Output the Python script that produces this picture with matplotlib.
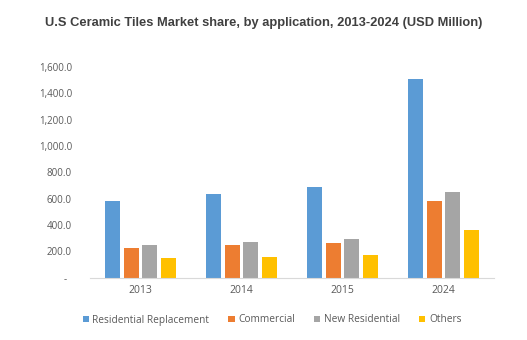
import numpy as np
import matplotlib
matplotlib.use("Agg")
import matplotlib.pyplot as plt
from matplotlib.ticker import FuncFormatter

# U.S ceramic tiles market by application, USD million
years = ["2013", "2014", "2015", "2024"]
residential_replacement = [581, 632, 685, 1510]
commercial = [225, 248, 263, 581]
new_residential = [248, 270, 293, 647]
others = [149, 157, 174, 361]

series = [
    ("Residential Replacement", residential_replacement, "#5B9BD5"),
    ("Commercial", commercial, "#ED7D31"),
    ("New Residential", new_residential, "#A5A5A5"),
    ("Others", others, "#FFC000"),
]

plt.rcParams["font.family"] = ["Open Sans", "DejaVu Sans"]

fig = plt.figure(figsize=(5.27, 3.40), dpi=100)
ax = fig.add_axes([90 / 527, 1 - 277.7 / 340, 404 / 527, (277.7 - 67) / 340])

x = np.arange(len(years))
width = 0.148
pitch = 0.183
for i, (name, vals, color) in enumerate(series):
    ax.bar(x + (i - 1.5) * pitch, vals, width, color=color, label=name)

ax.set_xlim(-0.5, len(years) - 0.5)
ax.set_ylim(0, 1600)
ax.set_yticks(np.arange(0, 1601, 200))


def fmt(v, pos):
    if v == 0:
        return "-  "
    return f"{v:,.1f}"


ax.yaxis.set_major_formatter(FuncFormatter(fmt))
ax.set_xticks(x)
ax.set_xticklabels(years)

for side in ["top", "right", "left"]:
    ax.spines[side].set_visible(False)
ax.spines["bottom"].set_color("#D9D9D9")
ax.tick_params(axis="y", length=0, pad=13, labelsize=7, labelcolor="#595959")
ax.tick_params(axis="x", length=0, pad=5, labelsize=7.5, labelcolor="#595959")

fig.text(0.5, 1 - 23 / 340, "U.S Ceramic Tiles Market share, by application, 2013-2024 (USD Million)",
         ha="center", va="center", fontsize=9.3, fontweight="bold",
         color="#404040", family=["Liberation Sans", "DejaVu Sans"])

fig.legend(loc="center", bbox_to_anchor=(272 / 527, 1 - 320 / 340), ncol=4,
           frameon=False, fontsize=7.3, labelcolor="#595959",
           handlelength=0.6, handleheight=0.6, handletextpad=0.35,
           columnspacing=1.9)

fig.savefig("out.png", dpi=100)
